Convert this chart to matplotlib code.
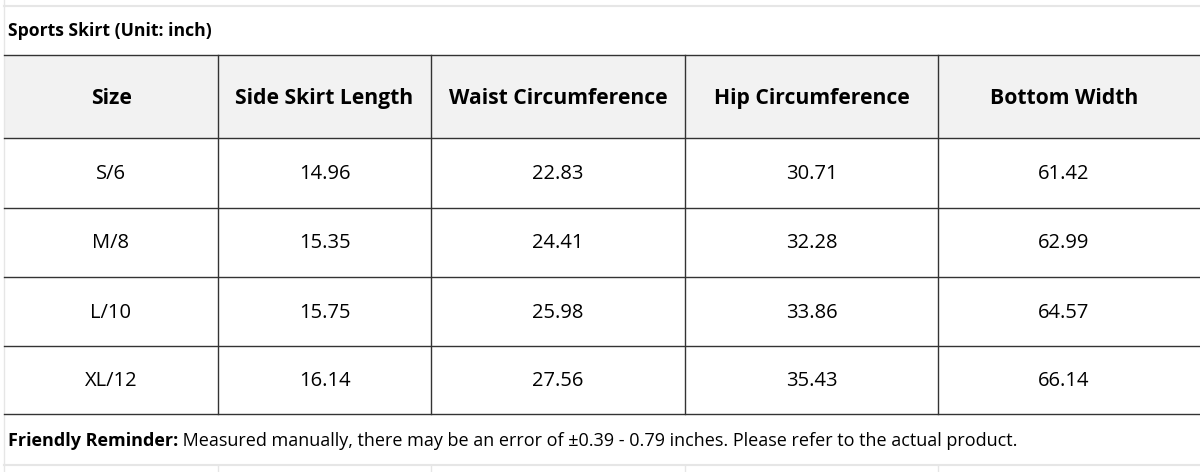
import matplotlib
matplotlib.use("Agg")
import matplotlib.pyplot as plt

title = "Sports Skirt (Unit: inch)"
headers = ["Size", "Side Skirt Length", "Waist Circumference", "Hip Circumference", "Bottom Width"]
sizes = ["S/6", "M/8", "L/10", "XL/12"]
side_length = ["14.96", "15.35", "15.75", "16.14"]
waist = ["22.83", "24.41", "25.98", "27.56"]
hip = ["30.71", "32.28", "33.86", "35.43"]
bottom = ["61.42", "62.99", "64.57", "66.14"]
reminder_bold = "Friendly Reminder:"
reminder = " Measured manually, there may be an error of \u00b10.39 - 0.79 inches. Please refer to the actual product."

plt.rcParams['font.family'] = ['Open Sans', 'DejaVu Sans']
fig = plt.figure(figsize=(12, 4.72), dpi=100)
ax = fig.add_axes([0, 0, 1, 1])
ax.set_xlim(0, 1200); ax.set_ylim(472, 0); ax.axis('off')

xs = [4, 218, 431, 685, 938, 1200]
ys = [55, 138, 208, 277, 346, 414]

for y in [6, 465]:
    ax.plot([4, 1200], [y, y], color='#e6e6e6', lw=1.5)
ax.plot([4, 4], [0, 472], color='#e6e6e6', lw=1)
for x in [218, 431, 685, 938]:
    ax.plot([x, x], [465, 472], color='#e6e6e6', lw=1)

ax.add_patch(plt.Rectangle((4, ys[0]), 1196, ys[1]-ys[0], color='#f2f2f2', lw=0))
for y in ys:
    ax.plot([4, 1200], [y, y], color='#333333', lw=1.0)
for x in xs[1:-1]:
    ax.plot([x, x], [ys[0], ys[-1]], color='#333333', lw=1.0)

ax.text(8, 31, title, fontsize=12.7, fontweight='bold', va='center', ha='left')
centers = [(xs[i]+xs[i+1])/2 for i in range(5)]
centers[-1] = 1064
for c, h in zip(centers, headers):
    ax.text(c, (ys[0]+ys[1])/2 + 2, h, fontsize=15.2, fontweight='bold', ha='center', va='center')
cols = [sizes, side_length, waist, hip, bottom]
for r in range(4):
    yc = (ys[r+1]+ys[r+2])/2 + 1
    for c, col in zip(centers, cols):
        ax.text(c, yc, col[r], fontsize=14.5, ha='center', va='center')

t = ax.text(8, 441, reminder_bold, fontsize=13, fontweight='bold', ha='left', va='center')
fig.canvas.draw()
bb = t.get_window_extent()
x2 = ax.transData.inverted().transform((bb.x1, 0))[0]
ax.text(x2, 441, reminder, fontsize=13, ha='left', va='center')

fig.savefig("out.png", dpi=100, facecolor='white')
